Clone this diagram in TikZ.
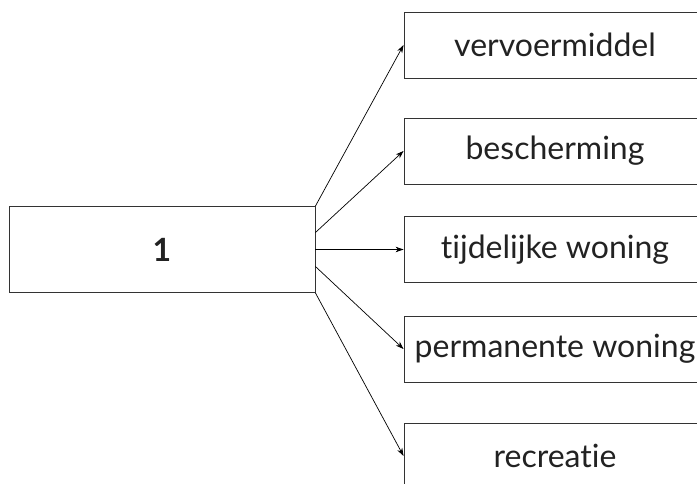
\documentclass[tikz,border=0pt]{standalone}
\usepackage{fontspec}
\setmainfont[RawFeature={-liga;-dlig;-clig}]{Lato}
\usetikzlibrary{arrows.meta}
\definecolor{txt}{HTML}{222222}
\definecolor{brd}{HTML}{333333}
\begin{document}
\begin{tikzpicture}[x=1pt,y=1pt,
  box/.style={draw=brd,line width=0.9pt,rectangle,inner sep=0pt,text=txt,font=\fontsize{32}{36}\selectfont},
  rbox/.style={box,minimum width=302pt,minimum height=66pt},
  conn/.style={line width=0.7pt,-{Stealth[length=8pt,width=5.5pt]}}]
\useasboundingbox (0,0) rectangle (697,-484);
\clip (0,0) rectangle (697,-484);
\node[box,minimum width=306pt,minimum height=86pt,font=\fontsize{32}{36}\selectfont\bfseries] (L) at (162,-249.5) {1};
\node[rbox] (r1) at (555,-45) {vervoermiddel};
\node[rbox] (r2) at (555,-151) {bescherming};
\node[rbox] (r3) at (555,-249.5) {tijdelijke woning};
\node[rbox] (r4) at (555,-349) {permanente woning};
\node[rbox] (r5) at (555,-456) {recreatie};
\coordinate (s2) at ([yshift=17pt]L.east);
\coordinate (s4) at ([yshift=-17pt]L.east);
\draw[conn] (L.north east) -- (r1.west);
\draw[conn] (s2) -- (r2.west);
\draw[conn] (L.east) -- (r3.west);
\draw[conn] (s4) -- (r4.west);
\draw[conn] (L.south east) -- (r5.west);
\end{tikzpicture}
\end{document}
